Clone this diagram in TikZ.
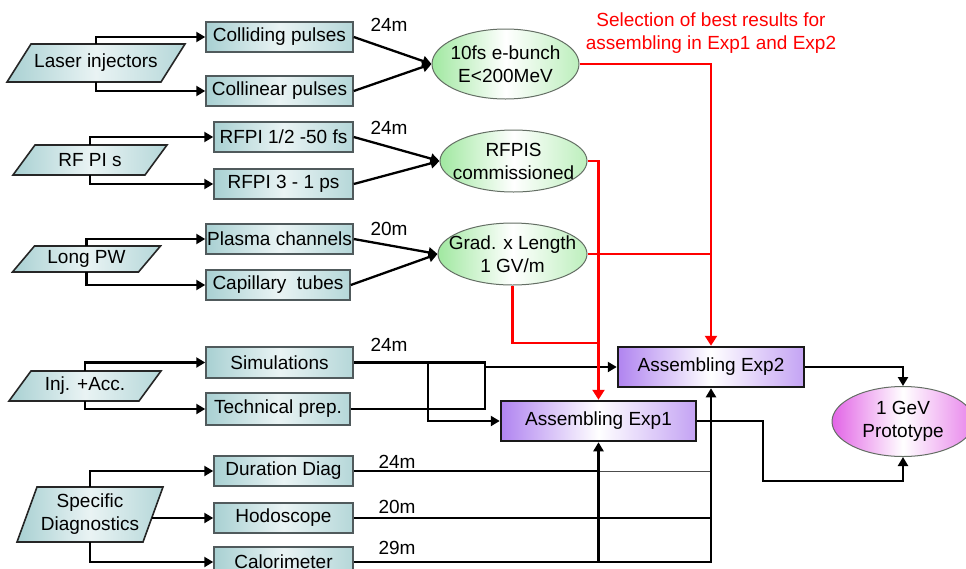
\documentclass[tikz,border=0pt]{standalone}
\usepackage{fontspec}
\setmainfont{Liberation Sans}
\usetikzlibrary{arrows.meta,shapes.geometric,calc}
\definecolor{tealc}{RGB}{168,208,210}
\definecolor{grnc}{RGB}{160,232,160}
\definecolor{purc}{RGB}{176,132,240}
\definecolor{pinkc}{RGB}{226,100,230}
\definecolor{redc}{RGB}{255,0,0}
\definecolor{bordg}{RGB}{80,90,92}
\definecolor{ellg}{RGB}{100,110,100}
\newcommand\pgram[7]{%
  \path[pfill] (#2-#4-#6,#3+#5) -- (#2+#4-#6,#3+#5) -- (#2+#4+#6,#3-#5) -- (#2-#4+#6,#3-#5) -- cycle;
  \node[ptext, minimum width={2*#4pt}, minimum height={2*#5pt}] (#1) at (#2,#3) {#7};}
\begin{document}
\begin{tikzpicture}[x=1pt,y=-1pt,font=\fontsize{19}{23}\selectfont,
  box/.style={draw=bordg, line width=1.5pt, left color=tealc, right color=tealc!85, middle color=tealc!25, inner sep=0pt, minimum height=30pt},
  pfill/.style={draw=black!85, line width=1.6pt, left color=tealc, right color=tealc!85, middle color=tealc!25},
  ptext/.style={inner sep=0pt, align=center},
  ell/.style={ellipse, draw=ellg, line width=1pt, left color=grnc, right color=grnc!70, middle color=white, inner sep=0pt},
  pell/.style={ellipse, draw=ellg, line width=1pt, left color=pinkc, right color=pinkc!80, middle color=white, inner sep=0pt},
  asm/.style={draw=black!90, line width=2.5pt, left color=purc, right color=purc!75, middle color=white, inner sep=0pt, minimum height=40pt},
  lbl/.style={align=center, inner sep=0pt},
  conn/.style={line width=2.3pt, black},
  thinl/.style={line width=1pt, black!70},
  arr/.style={-{Triangle[length=9pt,width=10pt]}},
  rconn/.style={line width=2.3pt, redc},
  rarr/.style={-{Triangle[length=10pt,width=12pt]}}]
\useasboundingbox (0,0) rectangle (966,568);

% parallelograms
\pgram{laser}{96}{63}{77}{19}{12}{Laser injectors}
\pgram{rfpi}{90}{160}{66}{15}{11}{RF PI s}
\pgram{longpw}{86.5}{259}{63}{13}{11}{Long PW}
\pgram{inj}{85}{386}{65}{15}{11}{Inj. +Acc.}
\pgram{spec}{90}{514.5}{63}{27.5}{10}{Specific\\Diagnostics}

% boxes
\node[box, minimum width=147pt] (coll) at (279.5,37) {Colliding pulses};
\node[box, minimum width=147pt] (colin) at (279.5,91) {Collinear pulses};
\node[box, minimum width=139pt] (rfpi1) at (283.5,137) {RFPI 1/2 -50 fs};
\node[box, minimum width=139pt] (rfpi3) at (283.5,184) {RFPI 3 - 1 ps};
\node[box, minimum width=147pt] (plasma) at (279.5,239) {Plasma channels};
\node[box, minimum width=144pt] (capil) at (278,285) {Capillary\ \ tubes};
\node[box, minimum width=147pt, minimum height=31pt] (sim) at (279.5,362.5) {Simulations};
\node[box, minimum width=144pt, minimum height=32pt] (tech) at (278,409) {Technical prep.};
\node[box, minimum width=139pt] (dur) at (283.5,471) {Duration Diag};
\node[box, minimum width=139pt] (hodo) at (283.5,518) {Hodoscope};
\node[box, minimum width=139pt] (calo) at (283.5,562) {Calorimeter};

% ellipses
\node[ell, minimum width=147pt, minimum height=70pt, label={[lbl]center:{10fs e-bunch\\E<200MeV}}] (ebunch) at (505.5,64) {};
\node[ell, minimum width=147pt, minimum height=62pt, label={[lbl]center:{RFPIS\\commissioned}}] (rfpis) at (513.5,161) {};
\node[ell, minimum width=149pt, minimum height=62pt, label={[lbl]center:{Grad. x Length\\1 GV/m}}] (grad) at (512.5,254) {};
\node[pell, minimum width=142pt, minimum height=70pt, label={[lbl]center:{1 GeV\\Prototype}}] (proto) at (903,421.5) {};

% assembling
\node[asm, minimum width=186pt] (exp2) at (711,367) {Assembling Exp2};
\node[asm, minimum width=195pt] (exp1) at (598.5,421) {Assembling Exp1};

% texts
\node[lbl, text=redc] (sel) at (711,33.5) {Selection of best results for\\assembling in Exp1 and Exp2};
\node[lbl] (d1) at (389,25) {24m};
\node[lbl] (d2) at (389,128) {24m};
\node[lbl] (d3) at (389,229) {20m};
\node[lbl] (d4) at (389,345) {24m};
\node[lbl] (d5) at (397,462) {24m};
\node[lbl] (d6) at (397,507) {20m};
\node[lbl] (d7) at (397,548) {29m};

% left connectors
\draw[conn,arr] (laser.north) |- (coll.west);
\draw[conn,arr] (laser.south) |- (colin.west);
\draw[conn,arr] (rfpi.north) |- (rfpi1.west);
\draw[conn,arr] (rfpi.south) |- (rfpi3.west);
\draw[conn,arr] (longpw.north) |- (plasma.west);
\draw[conn,arr] (longpw.south) |- (capil.west);
\draw[conn,arr] (inj.north) |- (sim.west);
\draw[conn,arr] (inj.south) |- (tech.west);
\draw[conn,arr] (spec.north) |- (dur.west);
\draw[conn,arr] (spec.south) |- (calo.west);
\coordinate (hs) at (152,518);
\draw[conn,arr] (hs) -- (hodo.west);

% merges
\draw[conn,arr] (coll.east) -- (ebunch.west);
\draw[conn,arr] (colin.east) -- (ebunch.west);
\draw[conn,arr] (rfpi1.east) -- (rfpis.west);
\draw[conn,arr] (rfpi3.east) -- (rfpis.west);
\draw[conn,arr] (plasma.east) -- (grad.west);
\draw[conn,arr] (capil.east) -- (grad.west);

% simulations / technical prep
\coordinate (j1) at (428,362.5);
\coordinate (j2) at (485,367);
\draw[conn] (sim.east) -| (j2);
\draw[conn] (tech.east) -| (j2);
\draw[conn,arr] (j2) -- (exp2.west);
\draw[conn,arr] (j1) |- (exp1.west);

% diagnostics
\draw[conn] (dur.east) -- (dur.east -| exp1.south);
\draw[thinl] (dur.east -| exp1.south) -- (dur.east -| exp2.south);
\draw[conn] (hodo.east) -- (hodo.east -| exp2.south);
\draw[conn,arr] (calo.east) -| (exp2.south);
\draw[conn,arr] (calo.east -| exp1.south) -- (exp1.south);

% outputs
\draw[conn,arr] (exp2.east) -| (proto.north);
\coordinate (k) at (763,481);
\draw[conn,arr] (exp1.east) -| (k) -| (proto.south);

% red selection lines
\draw[rconn,rarr] (ebunch.east) -| (exp2.north);
\draw[rconn,rarr] (rfpis.east) -| (exp1.north);
\draw[rconn] (grad.east) -- (grad.east -| exp2.north);
\coordinate (r2) at (598.5,343);
\draw[rconn] (grad.south) |- (r2);
\end{tikzpicture}
\end{document}
